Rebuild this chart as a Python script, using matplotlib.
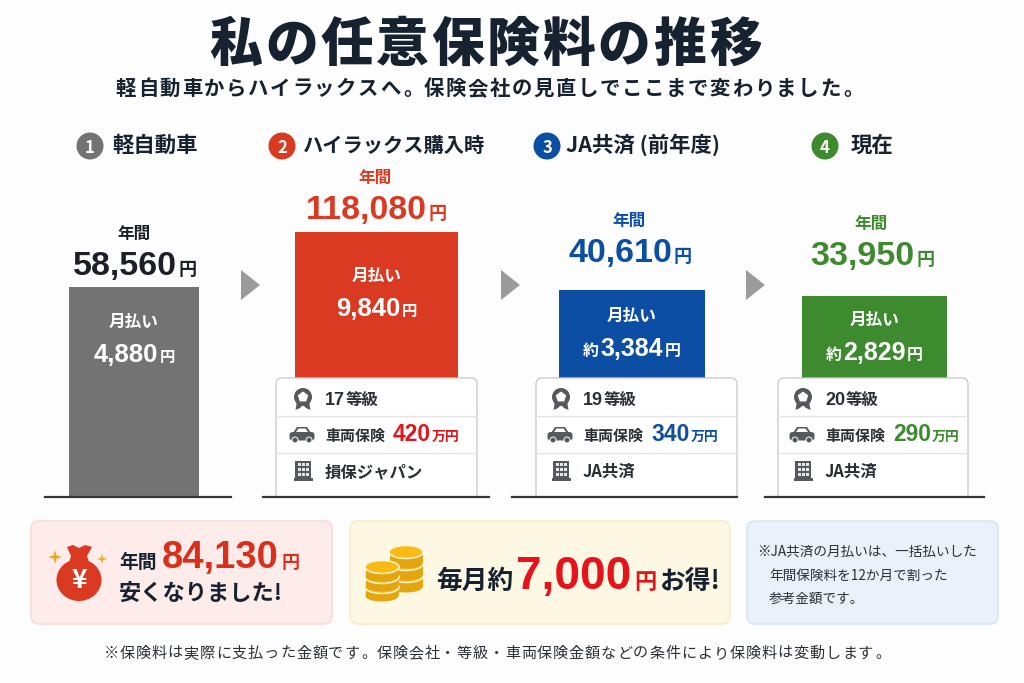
# 私の任意保険料の推移 infographic
import matplotlib
matplotlib.use('Agg')
import matplotlib.pyplot as plt
from matplotlib.patches import FancyBboxPatch, Circle, Ellipse, Polygon, Rectangle, RegularPolygon

plt.rcParams['font.family'] = ['Noto Sans CJK JP', 'DejaVu Sans']
NUM_FONT = ['Liberation Sans', 'Noto Sans CJK JP']
JP_FONT = ['Noto Sans CJK JP', 'DejaVu Sans']

# Data
plans = ['軽自動車', 'ハイラックス購入時', 'JA共済 (前年度)', '現在']
annual = [58560, 118080, 40610, 33950]
monthly = [4880, 9840, 3384, 2829]
monthly_prefix = ['', '', '約', '約']
grades = [None, 17, 19, 20]
coverage = [None, 420, 340, 290]
insurers = [None, '損保ジャパン', 'JA共済', 'JA共済']
bar_heights = [210, 265, 207, 201]   # drawn heights, not to scale with the yen values
saving_year = 84130
saving_month = 7000

# Colours
colors = ['#737373', '#d93a21', '#0c4ea3', '#3d8a2f']
value_colors = ['#1b1f27', '#d93a21', '#0c4ea3', '#3d8a2f']
cover_colors = [None, '#e0161b', '#0c4ea3', '#3d8a2f']
ink = '#172231'
soft = '#2b2f36'

fig = plt.figure(figsize=(10.24, 6.83), dpi=100, facecolor='#fdfdfd')
ax = fig.add_axes([0, 0, 1, 1])
ax.set_xlim(0, 1024)
ax.set_ylim(683, 0)
ax.axis('off')
renderer = fig.canvas.get_renderer()


def runs(x, y, parts, anchor='center'):
    # parts = (text, size in pt, colour, gap after in px, number font?); y is the baseline
    drawn = []
    total = 0
    for p in parts:
        gap = p[3] if len(p) > 3 else 0
        fam = NUM_FONT if len(p) > 4 and p[4] else JP_FONT
        t = ax.text(0, y, p[0], fontsize=p[1], color=p[2], weight='bold', family=fam,
                    va='baseline', ha='left', zorder=6)
        w = t.get_window_extent(renderer).width
        drawn.append((t, w, gap))
        total += w + gap
    pos = x - total / 2 if anchor == 'center' else x
    for t, w, gap in drawn:
        t.set_x(pos)
        pos += w + gap


def spaced(left, y, text, pitch, size, color, weight='bold'):
    # every character in its own cell, full-width text only
    for k, ch in enumerate(text):
        if ch == '。':
            ax.text(left + k * pitch + 2, y, ch, fontsize=size, color=color, weight=weight,
                    ha='left', va='baseline', zorder=6)
        else:
            ax.text(left + (k + 0.5) * pitch, y, ch, fontsize=size, color=color, weight=weight,
                    ha='center', va='baseline', zorder=6)


def rosette(cx, cy):
    c = '#55585c'
    ax.add_patch(Polygon([(cx - 6, cy + 2), (cx - 7.5, cy + 11), (cx - 3, cy + 9), (cx, cy + 6),
                          (cx + 3, cy + 9), (cx + 7.5, cy + 11), (cx + 6, cy + 2)], fc=c, ec='none', zorder=6))
    ax.add_patch(Circle((cx, cy - 2), 9, fc=c, ec='none', zorder=6))
    ax.add_patch(RegularPolygon((cx, cy - 2), 5, radius=5.5, orientation=3.14159, fc='white', ec='none', zorder=8))
    ax.add_patch(RegularPolygon((cx, cy - 2), 5, radius=2.5, orientation=0, fc='white', ec='none', zorder=8))


def car(cx, cy):
    c = '#55585c'
    ax.add_patch(FancyBboxPatch((cx - 12.5, cy - 3), 25, 8.5, boxstyle='round,pad=0,rounding_size=3', fc=c, ec='none', zorder=6))
    ax.add_patch(Polygon([(cx - 9, cy - 2), (cx - 5, cy - 8), (cx + 5, cy - 8), (cx + 9, cy - 2)], fc=c, ec='none', zorder=6))
    ax.add_patch(Polygon([(cx - 6, cy - 3), (cx - 3.5, cy - 6.5), (cx + 3.5, cy - 6.5), (cx + 6, cy - 3)], fc='white', ec='none', zorder=7))
    for dx in (-7, 7):
        ax.add_patch(Circle((cx + dx, cy + 5), 3, fc=c, ec='white', lw=0.7, zorder=7))


def building(cx, cy):
    c = '#55585c'
    ax.add_patch(Rectangle((cx - 8, cy - 10), 16, 19, fc=c, ec='none', zorder=6))
    ax.add_patch(Rectangle((cx - 9.5, cy + 7), 19, 2.5, fc=c, ec='none', zorder=6))
    for i in range(3):
        for j in range(3):
            ax.add_patch(Rectangle((cx - 5.5 + i * 4, cy - 8 + j * 5), 3, 3.4, fc='#e8e8e8', ec='none', zorder=7))


def coin_stack(cx, bottom, n, step):
    # one coin at a time, bottom first
    for i in range(n):
        y = bottom - i * step
        ax.add_patch(Rectangle((cx - 16.5, y - step + 1), 33, step - 1, fc='#e5a50f', ec='none', zorder=5))
        ax.add_patch(Ellipse((cx, y), 33, 11, fc='#e5a50f', ec='none', zorder=5))
        ax.add_patch(Ellipse((cx, y - step + 1), 34, 13, fc='#f7bb14', ec='#fdf6dc', lw=1.1, zorder=5))


def sparkle(cx, cy, r):
    s = r * 0.22
    ax.add_patch(Polygon([(cx, cy - r), (cx + s, cy - s), (cx + r, cy), (cx + s, cy + s),
                          (cx, cy + r), (cx - s, cy + s), (cx - r, cy), (cx - s, cy - s)],
                         fc='#f2a81d', ec='none', zorder=6))


# Title
spaced(208, 61, '私の任意保険料の推移', 55.5, 38, ink, weight=900)
spaced(115, 95, '軽自動車からハイラックスへ。保険会社の見直しでここまで変わりました。', 22, 14.7, ink)

# Columns: positions are in pixels
bar_x = [134, 376.5, 632, 874.5]
bar_w = [130, 163, 146, 145]
base_y = 497
floor_l = [45, 263, 512, 765]
floor_r = [231, 489, 737, 984]
card_l = [None, 276, 536, 778]
card_r = [None, 477, 737, 968]
card_text_x = [None, 325, 583, 825]
badge_x = [90, 282, 547, 825]
label_x = [112, 303, 566, 851]
label_sizes = [15.4, 14.6, 15.4, 15.4]
label_y = 152
year_x = [135, 376, 630, 872]
year_y = [275, 219, 262, 265]
month_y = [327, 281, 321, 325]
month_val_y = [362, 316, 356, 360]
arrow_x = [241, 501, 746]

ax.bar(bar_x, [-h for h in bar_heights], bottom=base_y, width=bar_w, color=colors, zorder=2)

for i in range(4):
    # header
    ax.add_patch(Circle((badge_x[i], 146), 13.5, fc=colors[i], ec='none', zorder=3))
    ax.text(badge_x[i], 146, str(i + 1), color='white', fontsize=12, weight='bold', ha='center', va='center_baseline', zorder=4)
    ax.text(label_x[i], label_y, plans[i], color=ink, fontsize=label_sizes[i], weight='bold', ha='left', va='baseline', zorder=4)

    # yearly amount above the bar
    runs(year_x[i] - 1, year_y[i] - 36, [('年間', 12, value_colors[i])])
    runs(year_x[i], year_y[i], [(f'{annual[i]:,}', 24.5, value_colors[i], 2, True), ('円', 13, value_colors[i])])

    # monthly amount inside the bar
    runs(bar_x[i], month_y[i], [('月払い', 12, 'white')])
    parts = [(f'{monthly[i]:,}', 18.5, 'white', 2, True), ('円', 11, 'white')]
    if monthly_prefix[i]:
        parts = [(monthly_prefix[i], 11.5, 'white', 1), (f'{monthly[i]:,}', 18, 'white', 2, True), ('円', 11.5, 'white')]
    runs(bar_x[i], month_val_y[i], parts)

    # detail card
    if grades[i] is not None:
        l, r = card_l[i], card_r[i]
        tx = card_text_x[i]
        ax.add_patch(FancyBboxPatch((l, 378), r - l, 125, boxstyle='round,pad=0,rounding_size=6',
                                    fc='white', ec='#cccccc', lw=1.0, zorder=3))
        for y in (416, 453):
            ax.plot([l, r], [y, y], color='#e4e4e4', lw=1, zorder=4)
        rosette(tx - 22, 399)
        car(tx - 23, 435)
        building(tx - 22, 471)
        runs(tx, 405, [(str(grades[i]), 13, soft, 1, True), ('等級', 11.8, soft)], anchor='left')
        runs(tx, 441, [('車両保険', 10.8, soft, 8), (str(coverage[i]), 16.5, cover_colors[i], 1, True),
                       ('万円', 10, cover_colors[i])], anchor='left')
        runs(tx, 477, [(insurers[i], 11.8, soft)], anchor='left')

# cover the bottom of the cards below the floor line
ax.add_patch(Rectangle((0, 498), 1024, 8, fc='#fdfdfd', ec='none', zorder=5))
for i in range(4):
    ax.plot([floor_l[i], floor_r[i]], [base_y, base_y], color='#33363b', lw=1.6, zorder=6)

for x in arrow_x:
    ax.add_patch(Polygon([(x, 270), (x + 19, 285), (x, 300)], fc='#9b9b9b', ec='none', zorder=3))

# Bottom panels
ax.add_patch(FancyBboxPatch((31, 521), 301, 103, boxstyle='round,pad=0,rounding_size=8', fc='#fdecea', ec='#f7dcd8', lw=1.2, zorder=1))
ax.add_patch(FancyBboxPatch((350, 521), 380, 103, boxstyle='round,pad=0,rounding_size=8', fc='#fdf8e4', ec='#f8ecc4', lw=1.2, zorder=1))
ax.add_patch(FancyBboxPatch((747, 521), 251, 103, boxstyle='round,pad=0,rounding_size=8', fc='#e9f1fa', ec='#d9e5f3', lw=1.2, zorder=1))

# Money bag
ax.add_patch(Ellipse((79, 580), 45, 42, fc='#d93a21', ec='none', zorder=5))
ax.add_patch(Polygon([(67, 547), (73, 545), (79, 548), (85, 545), (92, 547), (87, 556), (90, 566), (68, 566), (71, 556)],
                     fc='#d93a21', ec='none', zorder=5))
ax.text(79, 581, '¥', color='white', fontsize=19, weight='bold', ha='center', va='center', zorder=6)
sparkle(55, 557, 7)
sparkle(102, 559, 5)

runs(119, 568, [('年間', 13.5, ink, 5), (f'{saving_year:,}', 27.5, '#d9301c', 3, True), ('円', 13, '#d9301c')], anchor='left')
runs(119, 600, [('安くなりました!', 16, ink)], anchor='left')

# Coins
coin_stack(406, 587, 3, 12)
coin_stack(382, 596, 3, 10)
runs(436, 589, [('毎月約', 18.5, ink, 3), (f'{saving_month:,}', 33, '#e6131a', 3, True), ('円', 16, '#e6131a', 3), ('お得!', 18.5, ink)], anchor='left')

# Note
note = ['※JA共済の月払いは、一括払いした', '年間保険料を12か月で割った', '参考金額です。']
note_x = [757, 769, 769]
note_y = [556, 580, 603]
for s, x, y in zip(note, note_x, note_y):
    ax.text(x, y, s, color=soft, fontsize=9.8, ha='left', va='baseline', zorder=4)

spaced(103, 658, '※保険料は実際に支払った金額です。保険会社・等級・車両保険金額などの条件により保険料は変動します。', 16.05, 10.9, soft, weight='normal')

fig.savefig('out.png', dpi=100, facecolor=fig.get_facecolor())
